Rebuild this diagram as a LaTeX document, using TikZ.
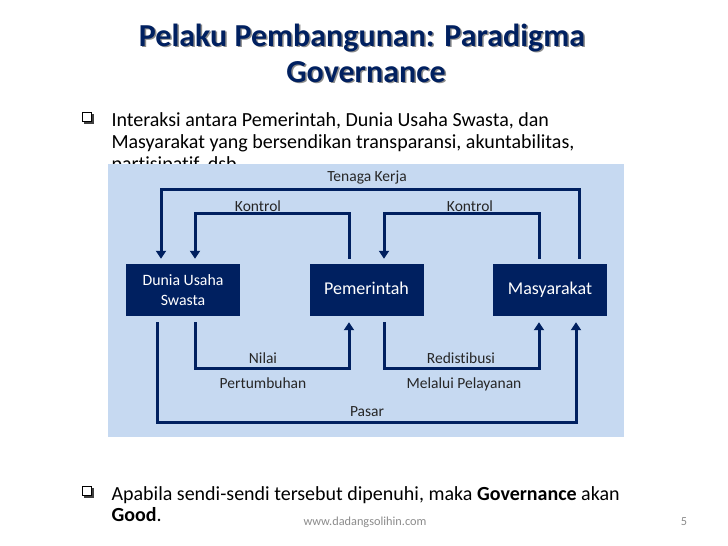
\documentclass[tikz,border=0pt]{standalone}
\usepackage{fontspec}
\setmainfont{Carlito}[Ligatures=NoCommon]
\usetikzlibrary{arrows.meta}
\definecolor{navy}{RGB}{0,32,96}
\definecolor{panel}{RGB}{198,217,241}
\definecolor{footgray}{RGB}{140,140,140}
\tikzset{
  actorbase/.style={fill=navy, text=white, minimum width=114pt, minimum height=52pt,
    inner sep=0pt, font=\fontsize{18}{21}\selectfont},
  actor/.style={actorbase, text height=0.9em, text depth=0.1em},
  link/.style={draw=navy, line width=3pt},
  flow/.style={link, -{Triangle[width=10pt,length=8pt]}},
  lbl/.style={text=black!85, font=\fontsize{15.5}{18}\selectfont,
    text height=0.68em, text depth=0.2em, yshift=-2pt},
  body/.style={anchor=base west, font=\fontsize{20}{24}\selectfont},
  titletxt/.style={anchor=base, text=navy, font=\fontsize{32}{36}\bfseries}
}
\begin{document}
\begin{tikzpicture}[x=1pt, y=-1pt]
  \useasboundingbox[fill=white] (0,0) rectangle (728,546);
  % title with its grey shadow
  \node[titletxt, text=black!45] (titleshade) at (363.5,47.5) {Pelaku Pembangunan: Paradigma};
  \node[titletxt] (title) at (362,46) {Pelaku Pembangunan: Paradigma};
  \node[titletxt, text=black!45] (subshade) at (367.5,83.5) {Governance};
  \node[titletxt] (sub) at (366,82) {Governance};
  % square bullets
  \foreach \b in {126,500} {
    \fill[black!75] (84,\b-12) rectangle (93.5,\b-2.5);
    \draw[black, line width=0.8pt, fill=white] (82.5,\b-14) rectangle (91.5,\b-4.5);
  }
  \node[body] (intro1) at (108,126) {Interaksi antara Pemerintah, Dunia Usaha Swasta, dan};
  \node[body] (intro2) at (108,148) {Masyarakat yang bersendikan transparansi, akuntabilitas,};
  \node[body] (intro3) at (108,170) {partisipatif, dsb.};
  % panel hides the last line
  \fill[panel] (108,164) rectangle (624,437);
  \node[actorbase, align=center, font=\fontsize{15.8}{20}\selectfont] (dus) at (183,290) {Dunia Usaha\\Swasta};
  \node[actor] (pem) at (366.5,290) {Pemerintah};
  \node[actor] (mas) at (550,290) {Masyarakat};
  % flows above the boxes
  \draw[flow] ([xshift=29pt,yshift=5pt]mas.north) -- ++(0,-69)
    -| ([xshift=-22pt,yshift=5pt]dus.north);
  \draw[flow] ([xshift=-17.5pt,yshift=5pt]pem.north) -- ++(0,-45)
    -| ([xshift=12pt,yshift=5pt]dus.north);
  \draw[flow] ([xshift=-11pt,yshift=5pt]mas.north) -- ++(0,-45)
    -| ([xshift=17.5pt,yshift=5pt]pem.north);
  % flows below the boxes
  \draw[flow] ([xshift=12pt,yshift=-6pt]dus.south) -- ++(0,46)
    -| ([xshift=-17.5pt,yshift=-6pt]pem.south);
  \draw[flow] ([xshift=17.5pt,yshift=-6pt]pem.south) -- ++(0,46)
    -| ([xshift=-11pt,yshift=-6pt]mas.south);
  \draw[flow] ([xshift=-26pt,yshift=-6pt]dus.south) -- ++(0,100)
    -| ([xshift=26pt,yshift=-6pt]mas.south);
  \node[lbl] (tenaga) at (367,177) {Tenaga Kerja};
  \node[lbl] (kontrolA) at (258,207) {Kontrol};
  \node[lbl] (kontrolB) at (470,207) {Kontrol};
  \node[lbl] (nilai) at (263,359) {Nilai};
  \node[lbl] (tumbuh) at (263,384) {Pertumbuhan};
  \node[lbl] (redis) at (461,359) {Redistibusi};
  \node[lbl] (layan) at (464,384) {Melalui Pelayanan};
  \node[lbl] (pasar) at (367,412) {Pasar};
  \node[body] (close1) at (108,500) {Apabila sendi-sendi tersebut dipenuhi, maka \textbf{Governance} akan};
  \node[body] (close2) at (108,521) {\textbf{Good}.};
  \node[anchor=base, text=footgray, font=\fontsize{12.3}{14}\selectfont] (site) at (365,525) {www.dadangsolihin.com};
  \node[anchor=base, text=footgray, font=\fontsize{12.3}{14}\selectfont] (page) at (684,525) {5};
\end{tikzpicture}
\end{document}
